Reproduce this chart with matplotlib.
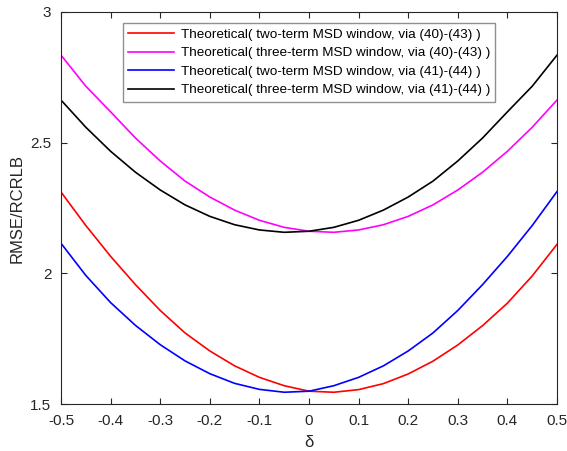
import numpy as np
import matplotlib
matplotlib.use("Agg")
from matplotlib import pyplot as plt

plt.rcParams['font.family'] = ['Liberation Sans', 'DejaVu Sans']

delta = [-0.5, -0.45, -0.4, -0.35, -0.3, -0.25, -0.2, -0.15, -0.1, -0.05, 0.0,
         0.05, 0.1, 0.15, 0.2, 0.25, 0.3, 0.35, 0.4, 0.45, 0.5]

# two-term MSD window, via (40)-(43)
red_vals = [2.311, 2.183, 2.065, 1.957, 1.858, 1.772, 1.703, 1.646, 1.602, 1.570, 1.549,
            1.545, 1.555, 1.578, 1.615, 1.664, 1.726, 1.800, 1.886, 1.990, 2.111]
# three-term MSD window, via (40)-(43)
magenta_vals = [2.835, 2.716, 2.618, 2.518, 2.430, 2.353, 2.292, 2.242, 2.203, 2.176, 2.161,
                2.157, 2.166, 2.186, 2.218, 2.262, 2.319, 2.387, 2.467, 2.559, 2.663]
# two-term MSD window, via (41)-(44)
blue_vals = [2.115, 1.992, 1.888, 1.801, 1.727, 1.665, 1.616, 1.579, 1.556, 1.545, 1.549,
             1.570, 1.602, 1.646, 1.703, 1.772, 1.858, 1.957, 2.065, 2.183, 2.313]
# three-term MSD window, via (41)-(44)
black_vals = [2.663, 2.559, 2.467, 2.387, 2.319, 2.262, 2.218, 2.186, 2.166, 2.157, 2.161,
              2.176, 2.203, 2.242, 2.292, 2.353, 2.430, 2.518, 2.618, 2.716, 2.835]

labels = ["Theoretical( two-term MSD window, via (40)-(43) )",
          "Theoretical( three-term MSD window, via (40)-(43) )",
          "Theoretical( two-term MSD window, via (41)-(44) )",
          "Theoretical( three-term MSD window, via (41)-(44) )"]
colors = ["#ff0000", "#ff00ff", "#0000ff", "#000000"]

fig = plt.figure(figsize=(5.67, 4.51), dpi=100)
ax = fig.add_axes([0.1076, 0.1042, 0.8748, 0.8692])

for vals, lab, c in zip([red_vals, magenta_vals, blue_vals, black_vals], labels, colors):
    ax.plot(delta, vals, color=c, lw=1.2, label=lab)

ax.set_xlim(-0.5, 0.5)
ax.set_ylim(1.5, 3)
ax.set_xticks(np.arange(-0.5, 0.51, 0.1))
ax.set_xticklabels(["-0.5", "-0.4", "-0.3", "-0.2", "-0.1", "0", "0.1", "0.2", "0.3", "0.4", "0.5"])
ax.set_yticks([1.5, 2, 2.5, 3])
ax.set_yticklabels(["1.5", "2", "2.5", "3"])
ax.tick_params(direction='in', length=4, width=0.8, colors='#262626', labelsize=11,
               top=True, right=True, pad=7)
for s in ax.spines.values():
    s.set_color('#262626')
    s.set_linewidth(0.8)

ax.set_xlabel("δ", fontsize=12, color='#262626', labelpad=5)
ax.set_ylabel("RMSE/RCRLB", fontsize=12, color='#262626', labelpad=4)

leg = ax.legend(loc='upper center', bbox_to_anchor=(0.5, 0.972), borderaxespad=0,
                fontsize=9.7, frameon=True, fancybox=False, handlelength=3.4,
                labelspacing=0.45, handletextpad=0.5, borderpad=0.4)
leg.get_frame().set_edgecolor('0.45')
leg.get_frame().set_linewidth(1.0)

fig.savefig("out.png", dpi=100)
